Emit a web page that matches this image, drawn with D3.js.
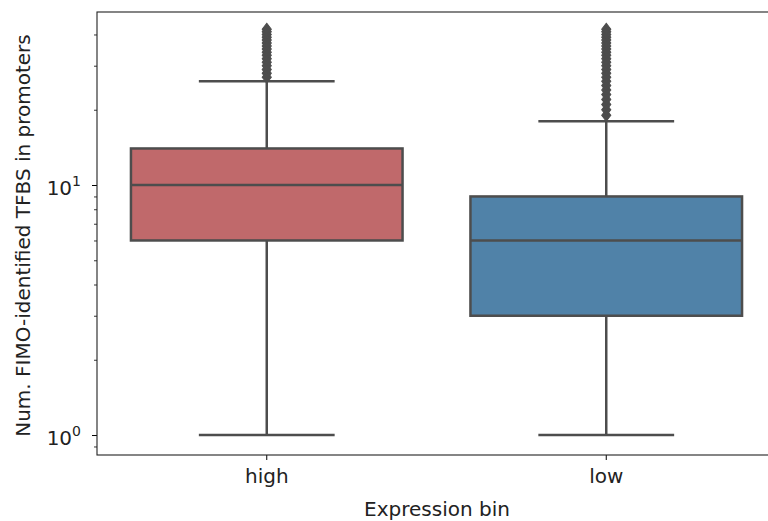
<!DOCTYPE html>
<html>
<head>
<meta charset="utf-8">
<script src="https://cdn.jsdelivr.net/npm/d3@7"></script>
<style>
  body { margin: 0; background: #fff; }
  svg { display: block; font-family: "DejaVu Sans", sans-serif; }
</style>
</head>
<body>
<svg id="chart" width="768" height="521"></svg>
<script>
// box stats per expression bin
const categories = ["high", "low"];
const whiskerLow = [1, 1];
const q1 = [6, 3];
const median = [10, 6];
const q3 = [14, 9];
const whiskerHigh = [26, 18];
const fliersHigh = [27, 28, 29, 30, 31, 32, 33, 34, 35, 36, 37, 38, 39, 40, 41, 42];
const fliersLow = [19, 20, 21, 22, 23, 24, 25, 26, 27, 28, 29, 30, 31, 32, 33, 34, 35, 36, 37, 38, 39, 40, 41, 42];
const fliers = [fliersHigh, fliersLow];
const boxColors = ["#c0696b", "#5082a8"];
const minorTicks = [0.9, 2, 3, 4, 5, 6, 7, 8, 9, 20, 30, 40];

const svg = d3.select("#chart");
const plotLeft = 97, plotRight = 776, plotTop = 12, plotBottom = 455;
const lineColor = "#4d4d4d";
const lw = 2.5;
const fontSize = 20;

let x = d3.scaleBand().domain(categories).range([plotLeft, plotRight]);
let y = d3.scaleLog().domain([0.832, 49.2]).range([plotBottom, plotTop]);

const bw = x.bandwidth();
const boxW = bw * 0.8;

categories.forEach((c, i) => {
  let cx = x(c) + bw / 2;
  let g = svg.append("g");
  // whisker lines
  g.append("line").attr("x1", cx).attr("x2", cx)
    .attr("y1", y(whiskerLow[i])).attr("y2", y(q1[i]))
    .attr("stroke", lineColor).attr("stroke-width", lw);
  g.append("line").attr("x1", cx).attr("x2", cx)
    .attr("y1", y(q3[i])).attr("y2", y(whiskerHigh[i]))
    .attr("stroke", lineColor).attr("stroke-width", lw);
  // caps
  [whiskerLow[i], whiskerHigh[i]].forEach(v => {
    g.append("line").attr("x1", cx - boxW / 4).attr("x2", cx + boxW / 4)
      .attr("y1", y(v)).attr("y2", y(v))
      .attr("stroke", lineColor).attr("stroke-width", lw);
  });
  // box
  g.append("rect")
    .attr("x", cx - boxW / 2).attr("width", boxW)
    .attr("y", y(q3[i])).attr("height", y(q1[i]) - y(q3[i]))
    .attr("fill", boxColors[i])
    .attr("stroke", lineColor).attr("stroke-width", lw);
  g.append("line").attr("x1", cx - boxW / 2).attr("x2", cx + boxW / 2)
    .attr("y1", y(median[i])).attr("y2", y(median[i]))
    .attr("stroke", lineColor).attr("stroke-width", lw);
  // outliers as diamonds
  g.selectAll("path.flier").data(fliers[i]).join("path")
    .attr("class", "flier")
    .attr("d", d3.symbol(d3.symbolDiamond, 40))
    .attr("transform", d => `translate(${cx},${y(d)}) scale(1.35,1)`)
    .attr("fill", lineColor)
    .attr("stroke", lineColor).attr("stroke-width", 0.8);
});

// axes
const yAxis = d3.axisLeft(y).tickValues([1, 10]).tickSize(5).tickFormat("");
svg.append("g").attr("transform", `translate(${plotLeft},0)`).call(yAxis)
  .call(g => g.select(".domain").remove())
  .call(g => g.selectAll(".tick line").attr("stroke", "#000").attr("stroke-width", 1));
const yMinor = d3.axisLeft(y).tickValues(minorTicks).tickSize(3).tickFormat("");
svg.append("g").attr("transform", `translate(${plotLeft},0)`).call(yMinor)
  .call(g => g.select(".domain").remove())
  .call(g => g.selectAll(".tick line").attr("stroke", "#000").attr("stroke-width", 0.8));

[[1, "0"], [10, "1"]].forEach(([v, e]) => {
  let t = svg.append("text")
    .attr("x", 81).attr("y", y(v) + 10)
    .attr("text-anchor", "end")
    .attr("font-size", fontSize).attr("fill", "#222");
  t.append("tspan").text("10");
  t.append("tspan").attr("dy", -9).attr("font-size", 14).text(e);
});

const xAxis = d3.axisBottom(x).tickSize(5).tickPadding(9);
svg.append("g").attr("transform", `translate(0,${plotBottom})`).call(xAxis)
  .call(g => g.select(".domain").remove())
  .call(g => g.selectAll(".tick line").attr("stroke", "#000"))
  .call(g => g.selectAll(".tick text").attr("font-size", fontSize).attr("fill", "#222")
    .attr("font-family", "DejaVu Sans"));

// frame
svg.append("rect").attr("x", plotLeft).attr("y", plotTop)
  .attr("width", plotRight - plotLeft).attr("height", plotBottom - plotTop)
  .attr("fill", "none").attr("stroke", "#222").attr("stroke-width", 1.1);

svg.append("text")
  .attr("x", 437).attr("y", 516)
  .attr("text-anchor", "middle").attr("font-size", fontSize).attr("fill", "#222")
  .text("Expression bin");

svg.append("text")
  .attr("transform", `translate(30,${(plotTop + plotBottom) / 2 + 2}) rotate(-90)`)
  .attr("text-anchor", "middle").attr("font-size", fontSize).attr("fill", "#222")
  .text("Num. FIMO-identified TFBS in promoters");
</script>
</body>
</html>
